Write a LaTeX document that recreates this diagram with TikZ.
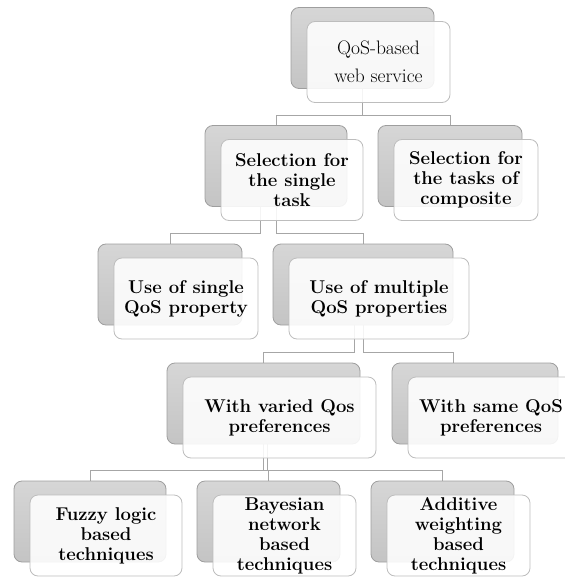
\documentclass[tikz,border=0pt]{standalone}
\usetikzlibrary{calc,backgrounds}
\definecolor{backtop}{HTML}{D6D6D6}
\definecolor{backbot}{HTML}{C4C4C4}
\definecolor{backline}{HTML}{9E9E9E}
\definecolor{frontline}{HTML}{BDBDBD}
\definecolor{connline}{HTML}{A6A6A6}
\newcommand{\boxfont}{\fontsize{18.5}{20}\selectfont\bfseries}
\newcommand{\topfont}{\fontsize{19.5}{28}\selectfont\mdseries}
\tikzset{
  backbox/.style={draw=backline, rounded corners=8pt, top color=backtop, bottom color=backbot, inner sep=0pt, line width=0.8pt},
  frontbox/.style={draw=frontline, rounded corners=8pt, fill=white, fill opacity=0.88, text opacity=1, draw opacity=1, inner sep=0pt, line width=0.8pt, align=center, font=\boxfont},
  conn/.style={draw=connline, line width=0.9pt},
}
\newcommand{\twobox}[6]{%
  \node[backbox, minimum width=#4pt, minimum height=81pt] (b#1) at (#2,#3) {};
  \node[frontbox, minimum width=#4pt, minimum height=81pt, #6] (f#1) at ([shift={(16,14)}]b#1.center) {#5};
}
\begin{document}
\begin{tikzpicture}[x=1pt,y=-1pt]
\useasboundingbox (0,0) rectangle (564,577);
\twobox{1}{362.5}{48}{143}{QoS-based\\web service}{font=\topfont}
\twobox{2}{276}{166}{142}{Selection for\\the single\\task}{}
\twobox{3}{450}{166}{144}{Selection for\\the tasks of\\composite}{}
\twobox{4}{170}{284.5}{144}{Use of single\\QoS property}{}
\twobox{5}{363}{284.5}{180}{Use of multiple\\QoS properties}{}
\twobox{6}{263.5}{403.5}{193}{With varied Qos\\preferences}{}
\twobox{7}{475}{403.5}{166}{With same QoS\\preferences}{}
\twobox{8}{90}{521.5}{152}{Fuzzy logic\\based\\techniques}{}
\twobox{9}{268.5}{521.5}{143}{Bayesian\\network\\based\\techniques}{}
\twobox{10}{442.5}{521.5}{143}{Additive\\weighting\\based\\techniques}{}
\coordinate (L1) at (0,115);
\coordinate (L2) at (0,233);
\coordinate (L3) at (0,352);
\coordinate (L4) at (0,470);
\begin{pgfonlayer}{background}
\draw[conn] (b1.south) -- (b1.south |- L1) -| (b2.north);
\draw[conn] (b1.south) -- (b1.south |- L1) -| (b3.north);
\draw[conn] ([xshift=-16pt]b2.south) -- ([xshift=-16pt]b2.south |- L2) -| (b4.north);
\draw[conn] (b2.south) -- (b2.south |- L2) -| (b5.north);
\draw[conn] ([xshift=-9pt]b5.south) -- ([xshift=-9pt]b5.south |- L3) -| (b6.north);
\draw[conn] (b5.south) -- (b5.south |- L3) -| ([xshift=-22pt]b7.north);
\draw[conn] ([xshift=4pt]b6.south) -- ([xshift=4pt]b6.south |- L4) -| (b8.north);
\draw[conn] (b6.south) -- (b6.south |- L4) -| (b9.north);
\draw[conn] (b6.south) -- (b6.south |- L4) -| (b10.north);
\end{pgfonlayer}
\end{tikzpicture}
\end{document}
